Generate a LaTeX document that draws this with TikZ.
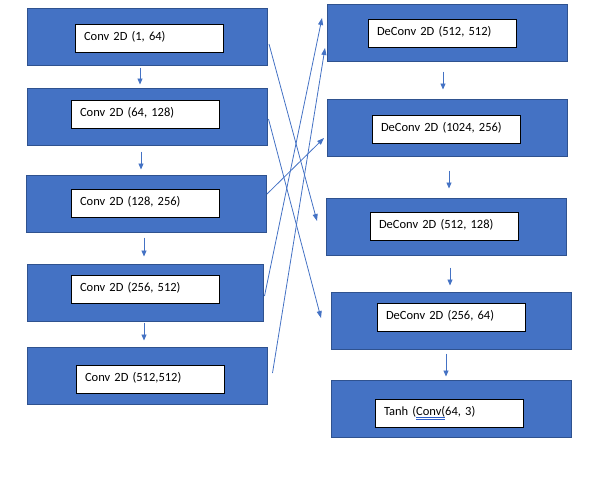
\documentclass[tikz,border=0pt]{standalone}
\usepackage{fontspec}
\setmainfont{Carlito}
\usetikzlibrary{arrows.meta}

\definecolor{boxblue}{HTML}{4472C4}
\definecolor{edgeblue}{HTML}{2F528F}
\definecolor{ulblue}{HTML}{2E5FC8}

\newsavebox\markbox
\newcommand\spellmark[1]{\sbox\markbox{#1}\rlap{\color{ulblue}\rule[-2pt]{\wd\markbox}{0.5pt}\llap{\rule[-3.5pt]{\wd\markbox}{0.5pt}}}#1}

\begin{document}
\begin{tikzpicture}[
  x=1pt, y=-1pt,
  font=\fontsize{12.5}{15}\selectfont,
  layer/.style={draw=edgeblue, line width=1pt, fill=boxblue, minimum width=240pt, minimum height=57pt},
  label/.style={draw=black, line width=0.9pt, fill=white, text width=130pt, inner xsep=9pt, minimum height=28pt, align=left, text height=10pt, text depth=5pt},
  flow/.style={-{Triangle[length=6pt,width=5pt]}, line width=0.8pt, draw=boxblue},
  skip/.style={-{Triangle[length=7pt,width=5pt]}, line width=0.8pt, draw=boxblue}
]
\useasboundingbox (0,0) rectangle (595,482);

% encoder
\node[layer] (c1) at (147.5,36.5) {};
\node[layer] (c2) at (147,116.5) {};
\node[layer] (c3) at (146.5,203.5) {};
\node[layer, minimum width=236pt] (c4) at (145,292.5) {};
\node[layer] (c5) at (147,375.5) {};

\node[label] (c1t) at (149,38) {Conv 2D (1, 64)};
\node[label] (c2t) at (145,114) {Conv 2D (64, 128)};
\node[label] (c3t) at (145,203) {Conv 2D (128, 256)};
\node[label] (c4t) at (145,289) {Conv 2D (256, 512)};
\node[label] (c5t) at (150,379) {Conv 2D (512,512)};

% decoder
\node[layer] (d1) at (447.5,32.5) {};
\node[layer] (d2) at (447.5,127.5) {};
\node[layer] (d3) at (446.5,226.5) {};
\node[layer] (d4) at (451.5,320.5) {};
\node[layer] (d5) at (451.5,408.5) {};

\node[label] (d1t) at (442,33) {DeConv 2D (512, 512)};
\node[label] (d2t) at (446,129) {DeConv 2D (1024, 256)};
\node[label] (d3t) at (444,226) {DeConv 2D (512, 128)};
\node[label] (d4t) at (451,317) {DeConv 2D (256, 64)};
\node[label] (d5t) at (449,413) {Tanh (\spellmark{Conv(}64, 3)};

% down the encoder
\draw[flow] ([xshift=-7.5pt,yshift=-2pt]c1.south) -- ([xshift=-7pt,yshift=3pt]c2.north);
\draw[flow] ([xshift=-6pt,yshift=-6pt]c2.south) -- ([xshift=-5.5pt,yshift=5pt]c3.north);
\draw[flow] ([xshift=-2.5pt,yshift=-5pt]c3.south) -- ([xshift=-1pt,yshift=7pt]c4.north);
\draw[flow] ([xshift=-1pt,yshift=-1pt]c4.south) -- ([xshift=-3pt,yshift=6pt]c5.north);

% down the decoder
\draw[flow] ([xshift=-4.5pt,yshift=-10pt]d1.south) -- ([xshift=-4.5pt,yshift=9pt]d2.north);
\draw[flow] ([xshift=1.5pt,yshift=-14pt]d2.south) -- ([xshift=2.5pt,yshift=9pt]d3.north);
\draw[flow] ([xshift=3.5pt,yshift=-12pt]d3.south) -- ([xshift=-1.5pt,yshift=6pt]d4.north);
\draw[flow] ([xshift=-5.5pt,yshift=-4pt]d4.south) -- ([xshift=-5.5pt,yshift=3pt]d5.north);

% skip links
\draw[skip] ([xshift=1pt,yshift=-7.5pt]c1.east) -- ([xshift=-9pt,yshift=5.5pt]d3.west);
\draw[skip] ([xshift=1pt,yshift=-2.5pt]c2.east) -- ([xshift=-10pt,yshift=2.5pt]d4.west);
\draw[skip] ([yshift=9.5pt]c3.east) -- ([xshift=-3pt,yshift=-10.5pt]d2.west);
\draw[skip] ([xshift=1pt,yshift=-3.5pt]c4.east) -- ([xshift=-5pt,yshift=14.5pt]d1.west);
\draw[skip] ([xshift=5pt,yshift=2.5pt]c5.east) -- ([xshift=-2pt,yshift=-15.5pt]d1.west);

\end{tikzpicture}
\end{document}
